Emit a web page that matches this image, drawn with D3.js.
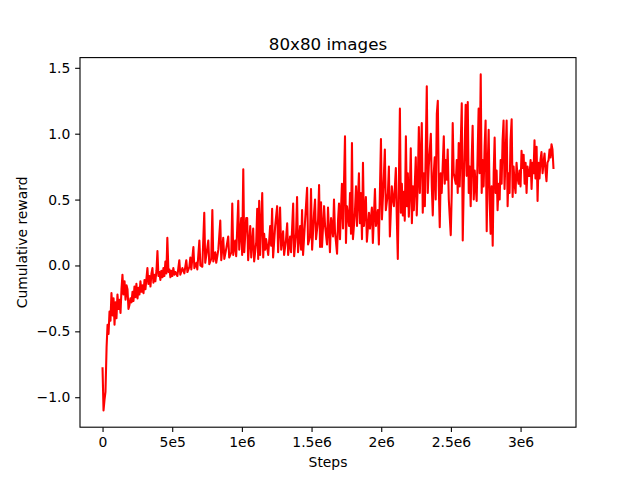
<!DOCTYPE html>
<html>
<head>
<meta charset="utf-8">
<script src="https://cdn.jsdelivr.net/npm/d3@7"></script>
<style>
	body { margin: 0; background: #fff; }
	svg text { font-family: "DejaVu Sans", sans-serif; }
</style>
</head>
<body>
<svg id="svg_main" width="640" height="480"></svg>
<script>
// training steps, in thousands
var steps = [
	0, 7, 14, 21, 29, 36, 43, 50, 57, 64, 72, 79, 86, 93, 100, 107, 115, 122, 129, 136, 143, 150, 158, 165, 172, 179, 186, 193, 200,
	208, 215, 222, 229, 236, 243, 251, 258, 265, 272, 279, 286, 294, 301, 308, 315, 322, 329, 337, 344, 351, 358, 365, 372, 379, 387,
	394, 401, 408, 415, 422, 430, 437, 444, 451, 458, 465, 473, 480, 487, 494, 501, 508, 516, 523,
	537, 551, 558, 573, 587, 601, 609, 623, 630, 637, 652, 659, 673, 680, 695, 702, 716, 730, 737, 745, 759, 766, 780, 788, 795,
	809, 816, 831, 845, 852, 866, 874, 888, 902, 909, 924, 931, 938, 952, 959, 974, 981, 995, 1002, 1010, 1017, 1031,
	1038, 1045, 1060, 1067, 1081, 1088, 1103, 1110, 1117, 1124, 1131, 1146, 1153, 1160, 1167, 1174, 1189, 1203, 1210, 1217, 1224,
	1239, 1253, 1260, 1274, 1282, 1296, 1303, 1317, 1325, 1332, 1346, 1353, 1368, 1375, 1389, 1396, 1403, 1418, 1425, 1432, 1439,
	1453, 1468, 1475, 1489, 1496, 1504, 1518, 1525, 1532, 1547, 1554, 1561,
	1568, 1575, 1590, 1597, 1611, 1618, 1632, 1640, 1654, 1661, 1668, 1683, 1690, 1697, 1704, 1718, 1726, 1740, 1747, 1754, 1769,
	1776, 1783, 1790, 1797, 1811, 1819, 1826, 1840, 1847, 1854, 1862, 1869, 1876, 1890, 1897, 1912, 1919, 1933, 1940, 1955, 1962,
	1976, 1983, 1998, 2005, 2019, 2026, 2033, 2048, 2055, 2062, 2076, 2084, 2091, 2105, 2112, 2119,
	2134, 2141, 2148, 2155, 2162, 2169, 2177, 2184, 2191, 2198, 2205, 2212, 2220, 2227, 2234, 2248, 2255, 2263, 2270, 2277, 2291,
	2298, 2306, 2313, 2327, 2334, 2341, 2356, 2363, 2370, 2377, 2384, 2391, 2399, 2406, 2413, 2420, 2427, 2434, 2449, 2456, 2463,
	2470, 2477, 2485, 2499, 2506, 2513, 2520, 2535, 2542, 2549, 2556, 2563, 2578, 2585, 2592, 2606, 2613, 2621, 2628, 2635, 2642,
	2649, 2656, 2664, 2671, 2678, 2685, 2692, 2699, 2706, 2714, 2721, 2728, 2735, 2742, 2749, 2757, 2764, 2771, 2778, 2785,
	2792, 2800, 2807, 2814, 2821, 2828, 2835, 2843, 2850, 2857, 2864, 2871, 2878, 2885, 2893, 2900, 2907, 2914, 2921, 2928,
	2936, 2943, 2950, 2957, 2964, 2971, 2979, 2986, 2993, 3000, 3007, 3014, 3022, 3029, 3036, 3043, 3050, 3057, 3064, 3072,
	3079, 3086, 3093, 3100, 3107, 3115, 3122, 3129, 3136, 3143, 3150, 3158, 3165, 3172, 3179, 3186, 3193, 3201, 3208, 3215,
	3222, 3229, 3236
];

var reward = [
	-0.78, -1.10, -1.02, -0.96, -0.62, -0.45, -0.52, -0.35, -0.42, -0.21, -0.38, -0.25, -0.45, -0.28, -0.40, -0.22, -0.33, -0.26, -0.36, -0.18, -0.07, -0.22, -0.12, -0.26, -0.15, -0.18, -0.33, -0.30, -0.25,
	-0.28, -0.20, -0.27, -0.16, -0.24, -0.14, -0.25, -0.17, -0.22, -0.12, -0.20, -0.15, -0.21, -0.11, -0.18, -0.10, -0.02, -0.14, -0.08, -0.16, -0.06, -0.02, -0.13, -0.07, -0.12,
	-0.04, 0.11, -0.08, -0.05, -0.11, -0.04, -0.09, -0.02, -0.08, 0.03, -0.06, 0.21, -0.05, -0.03, -0.09, -0.04, -0.08, -0.02, -0.07, -0.05,
	-0.08, 0.04, -0.07, -0.02, -0.06, 0.04, -0.05, -0.01, 0.06, -0.03, 0.14, -0.02, 0.02, -0.03, 0.19, 0.00, -0.01, 0.40, 0.02, 0.08, 0.19, 0.01, 0.05, 0.42, 0.03,
	0.10, 0.02, 0.12, 0.34, 0.04, 0.21, 0.05, 0.13, 0.22, 0.06, 0.10, 0.47, 0.08, 0.19, 0.07, 0.49, 0.12, 0.36, 0.08, 0.73, 0.10, 0.36,
	0.36, 0.04, 0.30, 0.06, 0.28, 0.03, 0.18, 0.43, 0.05, 0.49, 0.08, 0.55, 0.06, 0.24, 0.12, 0.20, 0.08, 0.30, 0.15, 0.43, 0.06,
	0.30, 0.45, 0.10, 0.44, 0.12, 0.26, 0.08, 0.20, 0.32, 0.08, 0.22, 0.10, 0.47, 0.07, 0.25, 0.52, 0.10, 0.30, 0.12, 0.42, 0.08,
	0.33, 0.59, 0.16, 0.22, 0.58, 0.12, 0.40, 0.50, 0.20, 0.35, 0.61, 0.14,
	0.48, 0.14, 0.45, 0.30, 0.16, 0.44, 0.10, 0.36, 0.22, 0.50, 0.26, 0.09, 0.34, 0.47, 0.20, 0.62, 0.28, 0.98, 0.17, 0.45, 0.30,
	0.55, 0.24, 0.93, 0.20, 0.40, 0.60, 0.30, 0.70, 0.32, 0.55, 0.20, 0.78, 0.30, 0.52, 0.18, 0.40, 0.28, 0.44, 0.17, 0.58, 0.30,
	0.42, 0.16, 0.96, 0.35, 0.68, 0.88, 0.42, 0.55, 0.75, 0.22, 0.60, 0.50, 0.45, 0.74, 0.35, 0.05,
	1.19, 0.40, 0.62, 0.38, 0.56, 0.34, 0.98, 0.45, 0.70, 0.37, 0.55, 0.89, 0.32, 0.60, 0.42, 0.82, 0.38, 0.65, 1.05, 0.55, 1.08,
	0.40, 0.70, 0.45, 1.36, 0.55, 0.75, 1.00, 0.60, 0.38, 0.70, 0.82, 0.50, 1.15, 1.25, 0.60, 0.29, 0.70, 0.55, 0.98, 0.62, 0.80,
	0.65, 0.88, 0.50, 0.23, 0.55, 1.08, 0.70, 0.62, 0.80, 0.55, 0.93, 0.60, 1.23, 0.19, 0.60, 1.22, 0.68, 1.24, 0.55, 0.75, 0.45,
	0.80, 1.06, 0.50, 0.72, 0.60, 0.49, 0.85, 1.19, 0.70, 1.45, 0.55, 0.80, 0.60, 0.90, 1.10, 0.26, 0.75, 1.03, 0.50, 0.24,
	0.60, 0.15, 0.70, 0.97, 0.55, 0.72, 0.42, 0.62, 0.50, 0.80, 0.62, 0.95, 1.10, 0.58, 0.85, 1.10, 0.45, 0.70, 0.55, 0.95,
	1.11, 0.52, 0.75, 0.62, 0.55, 0.78, 0.66, 0.62, 0.72, 0.60, 0.87, 0.74, 0.84, 0.62, 0.78, 0.55, 0.75, 0.68, 0.68, 0.80,
	0.58, 0.78, 0.70, 0.95, 0.66, 0.90, 0.49, 0.78, 0.66, 0.80, 0.86, 0.70, 0.78, 0.85, 0.72, 0.64, 0.78, 0.80, 0.88, 0.82,
	0.92, 0.88, 0.74
];

var x_ticks = [0, 5e5, 1e6, 1.5e6, 2e6, 2.5e6, 3e6];
var x_labels = ["0", "5e5", "1e6", "1.5e6", "2e6", "2.5e6", "3e6"];
var y_ticks = [-1.0, -0.5, 0.0, 0.5, 1.0, 1.5];

var margin = { top: 57.6, right: 64, bottom: 52.8, left: 80 };
var width = 640 - margin.left - margin.right,
	height = 480 - margin.top - margin.bottom;

var data = steps.map((s, i) => ({ step: s * 1000, r: reward[i] }));

var svg = d3.select("#svg_main");
var g = svg.append("g")
	.attr("transform", `translate(${margin.left}, ${margin.top})`);

// matplotlib style 5% padding
var xe = d3.extent(data, d => d.step), ye = d3.extent(data, d => d.r);
var xp = (xe[1] - xe[0]) * 0.05, yp = (ye[1] - ye[0]) * 0.05;

var x = d3.scaleLinear().domain([xe[0] - xp, xe[1] + xp]).range([0, width]);
var y = d3.scaleLinear().domain([ye[0] - yp, ye[1] + yp]).range([height, 0]);

var tick = 4.86, fs = "13.9px";

var xAxis = d3.axisBottom(x).tickValues(x_ticks)
	.tickFormat((d, i) => x_labels[i]).tickSize(tick).tickPadding(4.86);
var yAxis = d3.axisLeft(y).tickValues(y_ticks)
	.tickFormat(d => d3.format(".1f")(d).replace("-", "\u2212")).tickSize(tick).tickPadding(4.86);

g.append("path")
	.datum(data)
	.attr("fill", "none")
	.attr("stroke", "#ff0000")
	.attr("stroke-width", 2.08)
	.attr("stroke-linejoin", "round")
	.attr("stroke-linecap", "square")
	.attr("d", d3.line().x(d => x(d.step)).y(d => y(d.r)));

var gx = g.append("g")
	.attr("transform", `translate(0, ${height})`)
	.call(xAxis);
var gy = g.append("g").call(yAxis);

[gx, gy].forEach(a => {
	a.select(".domain").remove();
	a.selectAll(".tick line").attr("stroke", "#000").attr("stroke-width", 1.1);
	a.selectAll(".tick text").attr("fill", "#000").style("font-size", fs);
});

g.append("rect")
	.attr("width", width)
	.attr("height", height)
	.attr("fill", "none")
	.attr("stroke", "#000")
	.attr("stroke-width", 1.1);

svg.append("text")
	.attr("x", margin.left + width / 2)
	.attr("y", 50)
	.attr("text-anchor", "middle")
	.style("font-size", "16.7px")
	.text("80x80 images");

svg.append("text")
	.attr("x", margin.left + width / 2)
	.attr("y", 467)
	.attr("text-anchor", "middle")
	.style("font-size", fs)
	.text("Steps");

svg.append("text")
	.attr("transform", `translate(27, ${margin.top + height / 2}) rotate(-90)`)
	.attr("text-anchor", "middle")
	.style("font-size", fs)
	.text("Cumulative reward");
</script>
</body>
</html>
